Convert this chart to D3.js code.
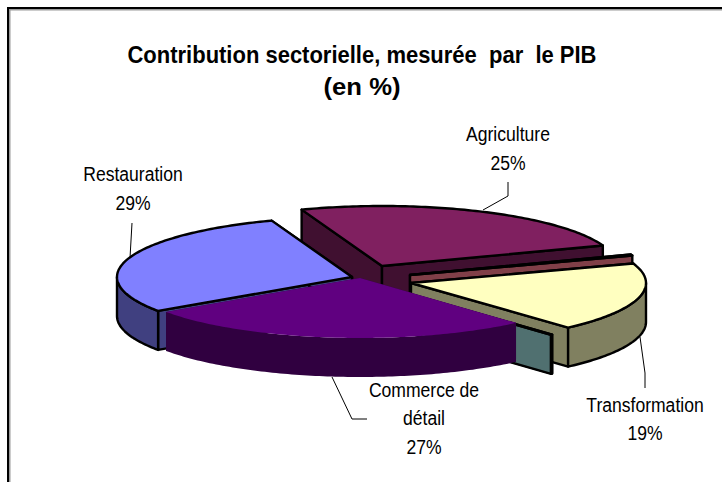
<!DOCTYPE html>
<html><head><meta charset="utf-8">
<script src="https://cdn.jsdelivr.net/npm/d3@7"></script>
<style>html,body{margin:0;padding:0;background:#fff}svg{display:block}</style>
</head><body>
<script>
// Data (the two unlabelled entries are very thin slices)
const categories = ["Agriculture", "", "Transformation", "", "Commerce de détail", "Restauration"];
const values = [25, 0.3, 18.6, 0.1, 27, 29];
const topColors = ["#802060", "#a04040", "#ffffc0", "#60a0a0", "#600080", "#8080ff"];
const sideColors = ["#401030", "#803f48", "#808060", "#507070", "#300040", "#404080"];
const titleLines = ["Contribution sectorielle, mesurée  par  le PIB", "(en %)"];

const W = 722, H = 482;
const svg = d3.select("body").append("svg").attr("width", W).attr("height", H).attr("viewBox", [0,0,W,H]);
svg.append("path").attr("d","M9.5,482V9.5H722").attr("fill","none").attr("stroke","#9a9a9a").attr("stroke-width",2);
svg.append("path").attr("d","M8,482V8H722").attr("fill","none").attr("stroke","#000").attr("stroke-width",2);

const font = "'Liberation Sans', Arial, sans-serif";
svg.selectAll("text.title").data(titleLines).join("text").attr("class","title")
  .attr("x",362).attr("y",(d,i)=>63+i*32).attr("text-anchor","middle")
  .attr("font-family",font).attr("font-weight","bold").attr("font-size",24)
  .attr("textLength",(d,i)=>i?77:469).attr("lengthAdjust","spacingAndGlyphs")
  .attr("xml:space","preserve").style("white-space","pre").text(d=>d);

const rx = 235, ry = 60, depth = 39;
const deg = Math.PI/180;
const pie = d3.pie().sort(null).value(d=>d).startAngle(-20*deg).endAngle(340*deg);
const arcs = pie(values);
// exploded centres per slice
const centres = [[382,266],[410,275],[411,283],[395,290],[360,278],[352,277]];
const pt = (c,a,z=0)=>[c[0]+rx*Math.sin(a), c[1]-ry*Math.cos(a)+z];
const line = d3.line();
function arcPts(c,a0,a1,z=0){
  const n=Math.max(2,Math.ceil(Math.abs(a1-a0)/(1*deg)));
  return d3.range(n+1).map(i=>pt(c,a0+(a1-a0)*i/n,z));
}
function quad(c,a){const o=pt(c,a);return line([c,o,[o[0],o[1]+depth],[c[0],c[1]+depth]])+"Z";}

function drawSlice(i,stroke){
  const d=arcs[i], c=centres[i], a0=d.startAngle, a1=d.endAngle;
  const g=svg.append("g").attr("stroke",stroke?"#000":"none").attr("stroke-width",stroke?2.4:0).attr("stroke-linejoin","round");
  g.append("path").attr("d",quad(c,a0)).attr("fill",sideColors[i]);
  g.append("path").attr("d",quad(c,a1)).attr("fill",sideColors[i]);
  const lo=Math.max(a0,90*deg), hi=Math.min(a1,270*deg);
  if(hi>lo){
    const t=arcPts(c,lo,hi), b=arcPts(c,hi,lo,depth);
    g.append("path").attr("d",line(t.concat(b))+"Z").attr("fill",sideColors[i]);
  }
  g.append("path").attr("d",line([c].concat(arcPts(c,a0,a1)))+"Z").attr("fill",topColors[i]);
}
[0,1,2,3].forEach(i=>drawSlice(i,true));
drawSlice(5,true);
drawSlice(4,false);

// Leader lines
const leaders = [
  [[508,182],[508,196],[483,210]],
  [[132,223],[130,258]],
  [[640,337],[645,373],[645,388]],
  [[332,377],[352,419],[367,419]]
];
svg.append("g").selectAll("path").data(leaders).join("path")
  .attr("d",line).attr("fill","none").attr("stroke","#000").attr("stroke-width",1);

// Labels
const labels = [
  {i:0,x:508,y:[141,170],l:["Agriculture"]},
  {i:5,x:133,y:[181,210],l:["Restauration"]},
  {i:2,x:645,y:[412,440],l:["Transformation"]},
  {i:4,x:424,y:[397,425,454],l:["Commerce de","détail"]}
];
labels.forEach(o=>{
  const rows=o.l.concat([Math.round(values[o.i])+"%"]);
  rows.forEach((t,k)=>{
    const el=svg.append("text").attr("x",o.x).attr("y",o.y[k]).attr("text-anchor","middle")
      .attr("font-family",font).attr("font-size",19.5).attr("fill","#000").text(t);
    el.attr("textLength",el.node().getComputedTextLength()*0.9).attr("lengthAdjust","spacingAndGlyphs");
  });
});
</script>
</body></html>
